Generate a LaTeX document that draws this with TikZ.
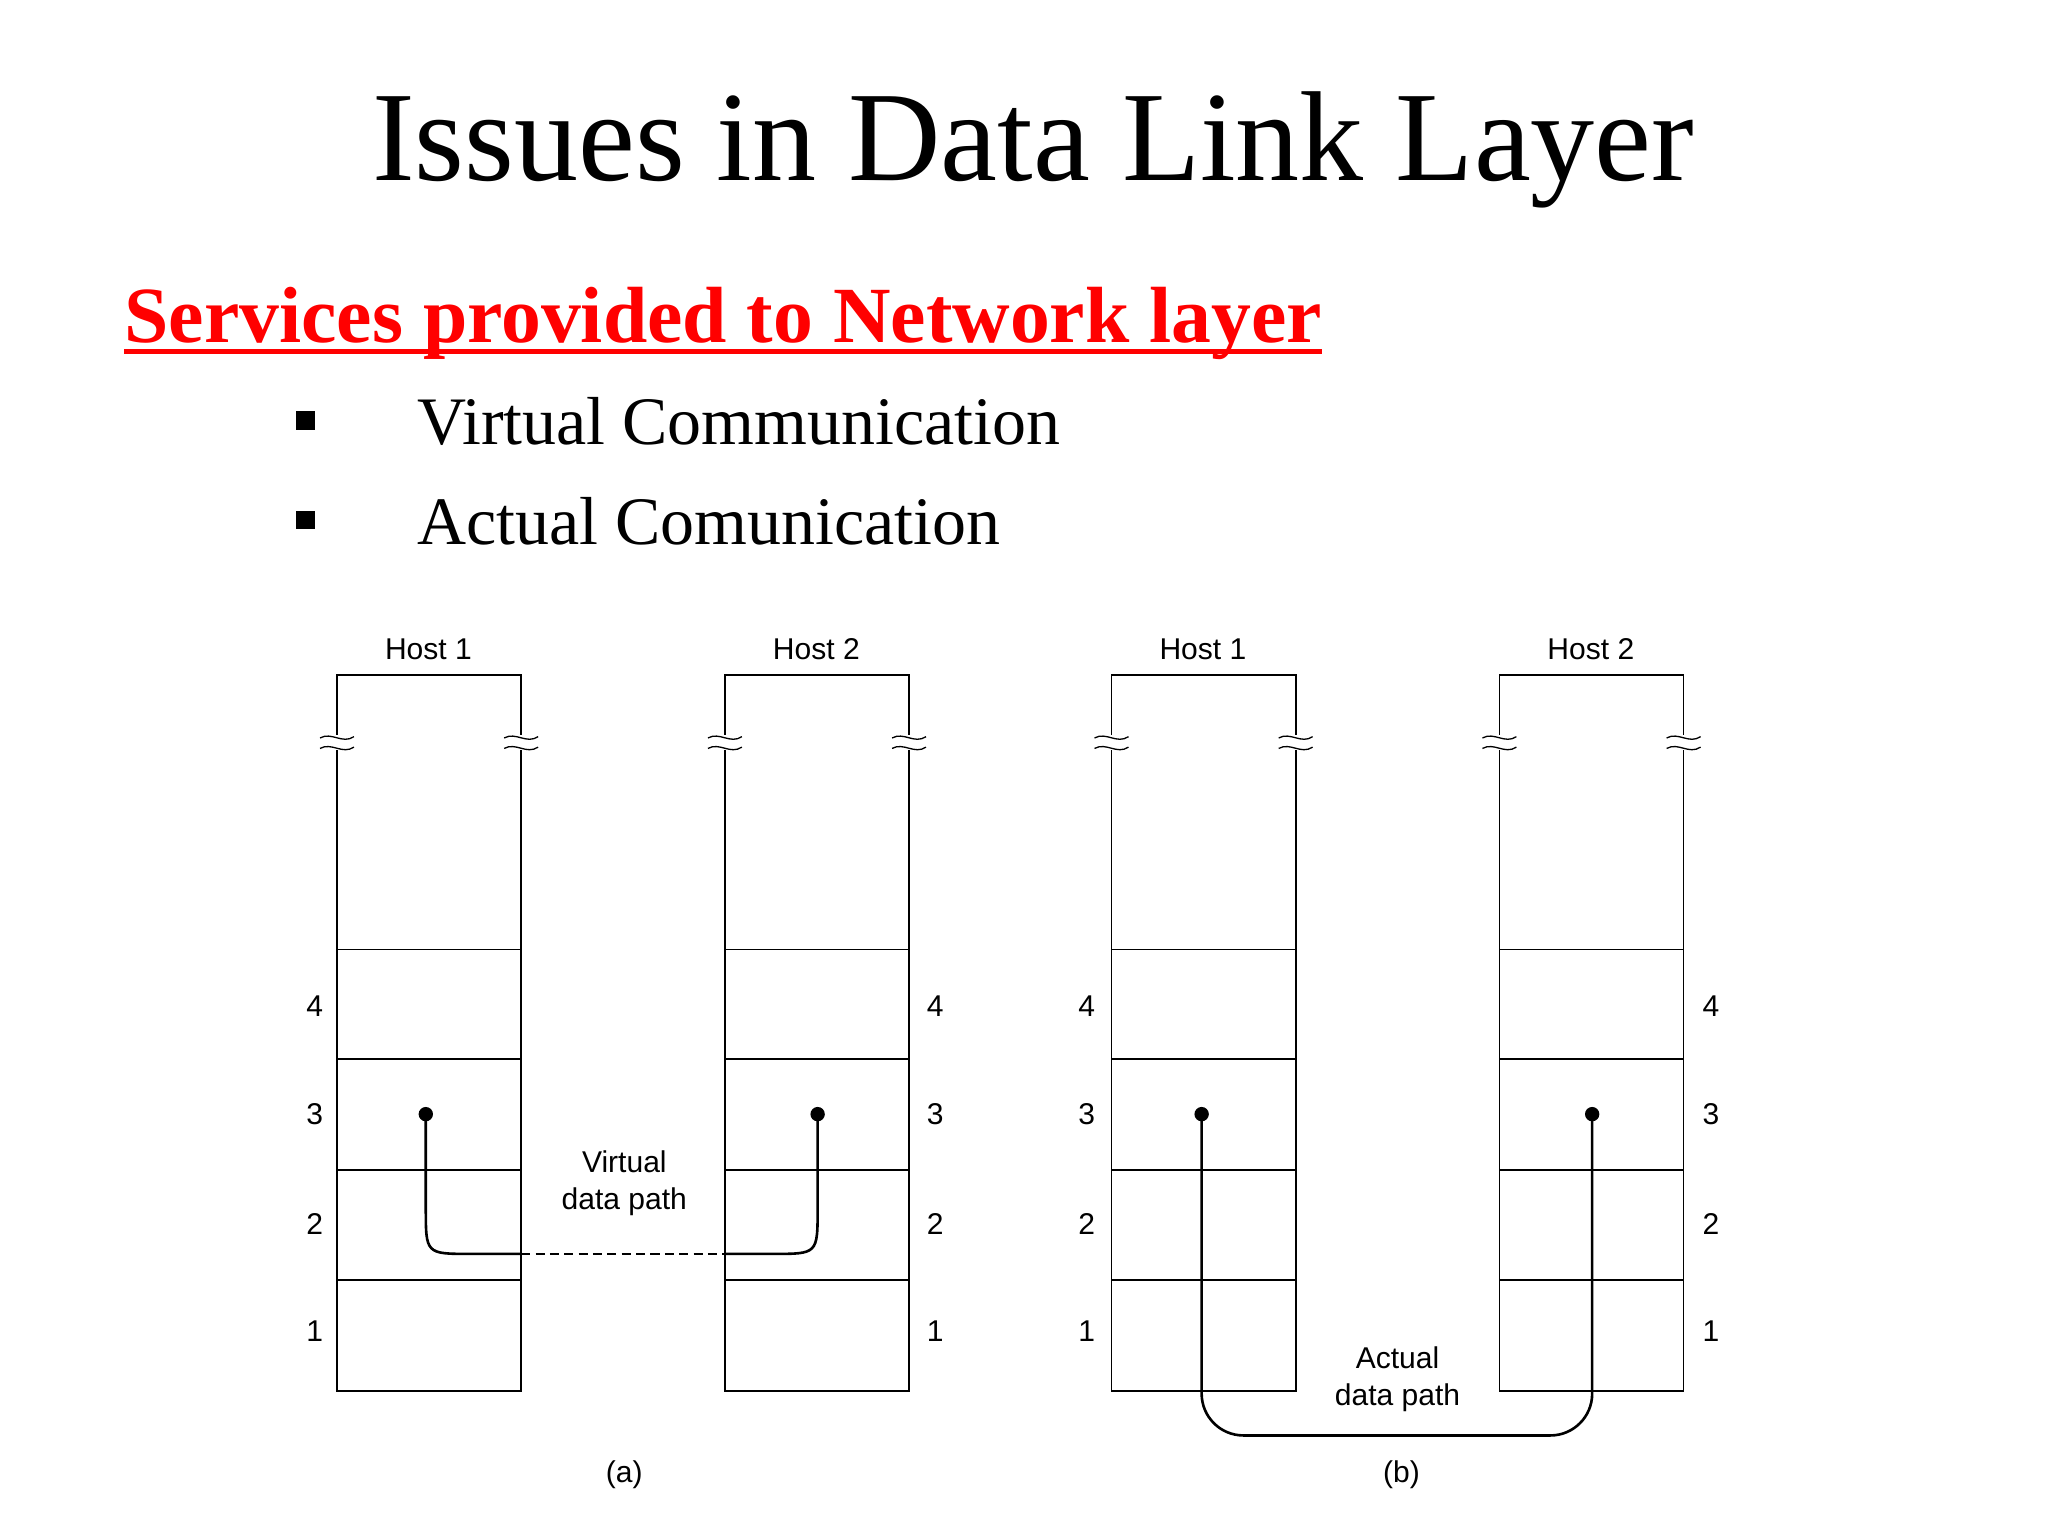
\documentclass[tikz,border=0pt]{standalone}
\usepackage{fontspec}
\usetikzlibrary{calc}
\setmainfont{Liberation Serif}
\newfontfamily\sansf{Liberation Sans}
\begin{document}
\begin{tikzpicture}[x=1pt,y=-1pt,
  box/.style={draw,line width=1.3pt},
  lbl/.style={font=\sansf\fontsize{23}{28}\selectfont,align=center},
  dotn/.style={circle,fill,inner sep=0pt,minimum size=11pt},
  pathl/.style={line width=2pt}]
\useasboundingbox (0,0) rectangle (1568,1176);
\node (title) at (791,115) {\fontsize{98}{110}\selectfont Issues in Data Link Layer};
\node[anchor=base west,text=red,font=\bfseries\fontsize{61}{70}\selectfont,inner sep=0pt] (sub) at (95,262) {Services provided to Network layer};
\draw[red,line width=3.5pt] ($(sub.base west)+(0,7)$) -- ($(sub.base east)+(0,7)$);
\fill (227,315) rectangle (241,329);
\fill (227,391) rectangle (241,405);
\node[anchor=west,font=\fontsize{52}{60}\selectfont] (b1) at (316,323) {Virtual Communication};
\node[anchor=west,font=\fontsize{52}{60}\selectfont] (b2) at (316,399) {Actual Comunication};
\foreach \n/\x/\h/\nx in {a1/258/Host 1/241,a2/555/Host 2/716,b1/851/Host 1/832,b2/1148/Host 2/1310}{
  \draw[box] (\x,517) rectangle ++(141,548);
  \foreach \yy in {727,811,896,980} \draw[box] (\x,\yy) -- ++(141,0);
  \node[lbl] (h\n) at (\x+70,497) {\h};
  \foreach \ex in {\x,\x+141}{
    \fill[white] (\ex-2,563) rectangle (\ex+2,574);
    \draw[line width=1pt] (\ex-13,565) .. controls (\ex-4,560) and (\ex+4,570) .. (\ex+13,564);
    \draw[line width=1pt] (\ex-13,573) .. controls (\ex-4,568) and (\ex+4,578) .. (\ex+13,572);
  }
  \node[lbl] at (\nx,770) {4};
  \node[lbl] at (\nx,853) {3};
  \node[lbl] at (\nx,937) {2};
  \node[lbl] at (\nx,1019) {1};
}
\node[dotn] (d1) at (326,853) {};
\node[dotn] (d2) at (626,853) {};
\coordinate (p1) at (399,960);
\coordinate (p2) at (555,960);
\draw[pathl] (d1.center) -- (326,925) .. controls (326,960) .. (360,960) -- (p1);
\draw[pathl,dashed,dash pattern=on 7pt off 4pt] (p1) -- (p2);
\draw[pathl] (p2) -- (592,960) .. controls (626,960) .. (626,925) -- (d2.center);
\node[lbl] (vl) at (478,906) {Virtual\\data path};
\node[dotn] (d3) at (920,853) {};
\node[dotn] (d4) at (1219,853) {};
\draw[pathl,rounded corners=32pt] (d3.center) -- (920,1099) -- (1219,1099) -- (d4.center);
\node[lbl] (al) at (1070,1056) {Actual\\data path};
\node[lbl] (ca) at (478,1129) {(a)};
\node[lbl] (cb) at (1073,1129) {(b)};
\end{tikzpicture}
\end{document}
